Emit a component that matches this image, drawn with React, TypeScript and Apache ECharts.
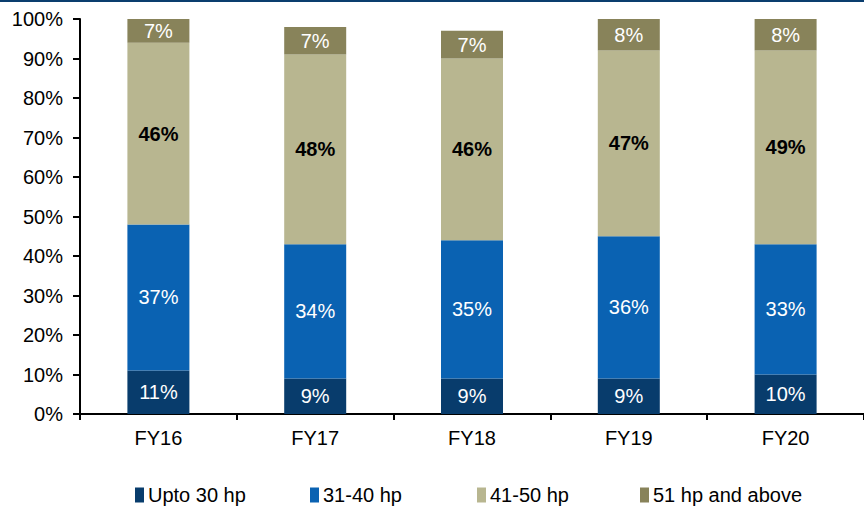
import React, { useEffect, useRef } from "react";
import * as echarts from "echarts";

const categories = ["FY16", "FY17", "FY18", "FY19", "FY20"];
const upto30 = [11, 9, 9, 9, 10];
const hp31to40 = [37, 34, 35, 36, 33];
const hp41to50 = [46, 48, 46, 47, 49];
const hp51plus = [7, 7, 7, 8, 8];
const yTicks = [0, 10, 20, 30, 40, 50, 60, 70, 80, 90, 100];

const seriesNames = ["Upto 30 hp", "31-40 hp", "41-50 hp", "51 hp and above"];
const colors = ["#083c6c", "#0a62b2", "#b8b690", "#88835a"];
const FONT = "Liberation Sans, Arial, sans-serif";

export default function App() {
  const ref = useRef<HTMLDivElement>(null);

  useEffect(() => {
    if (!ref.current) return;
    const chart = echarts.init(ref.current, undefined, { renderer: "svg" });
    const values = [upto30, hp31to40, hp41to50, hp51plus];
    const legendLeft = [130, 305, 472, 635];

    const series = values.map((data, i) => ({
      name: seriesNames[i],
      type: "bar",
      stack: "total",
      barWidth: 62,
      data,
      itemStyle: { color: colors[i] },
      label: {
        show: true,
        position: "inside",
        formatter: "{c}%",
        fontFamily: FONT,
        fontSize: 20,
        color: i === 2 ? "#000000" : "#ffffff",
        fontWeight: i === 2 ? "bold" : "normal",
      },
    }));

    chart.setOption({
      animation: false,
      textStyle: { fontFamily: FONT },
      grid: { left: 80, top: 19, bottom: 94, width: 789, containLabel: false },
      legend: seriesNames.map((name, i) => ({
        data: [name],
        left: legendLeft[i],
        top: 480,
        itemWidth: 9,
        itemHeight: 15,
        itemGap: 6,
        icon: "rect",
        textStyle: { fontFamily: FONT, fontSize: 20, color: "#000000", padding: [0, 0, 0, -1] },
        selectedMode: false,
      })),
      graphic: [
        {
          type: "rect",
          left: 0,
          top: 0,
          shape: { width: 864, height: 2 },
          style: { fill: "#0a3d6e" },
        },
      ],
      xAxis: {
        type: "category",
        data: categories,
        axisLine: { lineStyle: { color: "#000000", width: 2 } },
        axisTick: { show: true, length: 6, lineStyle: { color: "#000000", width: 2 } },
        axisLabel: { fontFamily: FONT, fontSize: 20, color: "#000000", margin: 14 },
      },
      yAxis: {
        type: "value",
        min: 0,
        max: 100,
        interval: 10,
        axisLine: { show: true, lineStyle: { color: "#000000", width: 2 } },
        axisTick: { show: true, length: 7, lineStyle: { color: "#000000", width: 2 } },
        splitLine: { show: false },
        axisLabel: {
          fontFamily: FONT,
          fontSize: 20,
          color: "#000000",
          margin: 17,
          formatter: (v: number) => (yTicks.includes(v) ? `${v}%` : ""),
        },
      },
      series,
    });

    return () => chart.dispose();
  }, []);

  return <div ref={ref} style={{ width: 864, height: 508, position: "absolute", left: 0, top: 0 }} />;
}
